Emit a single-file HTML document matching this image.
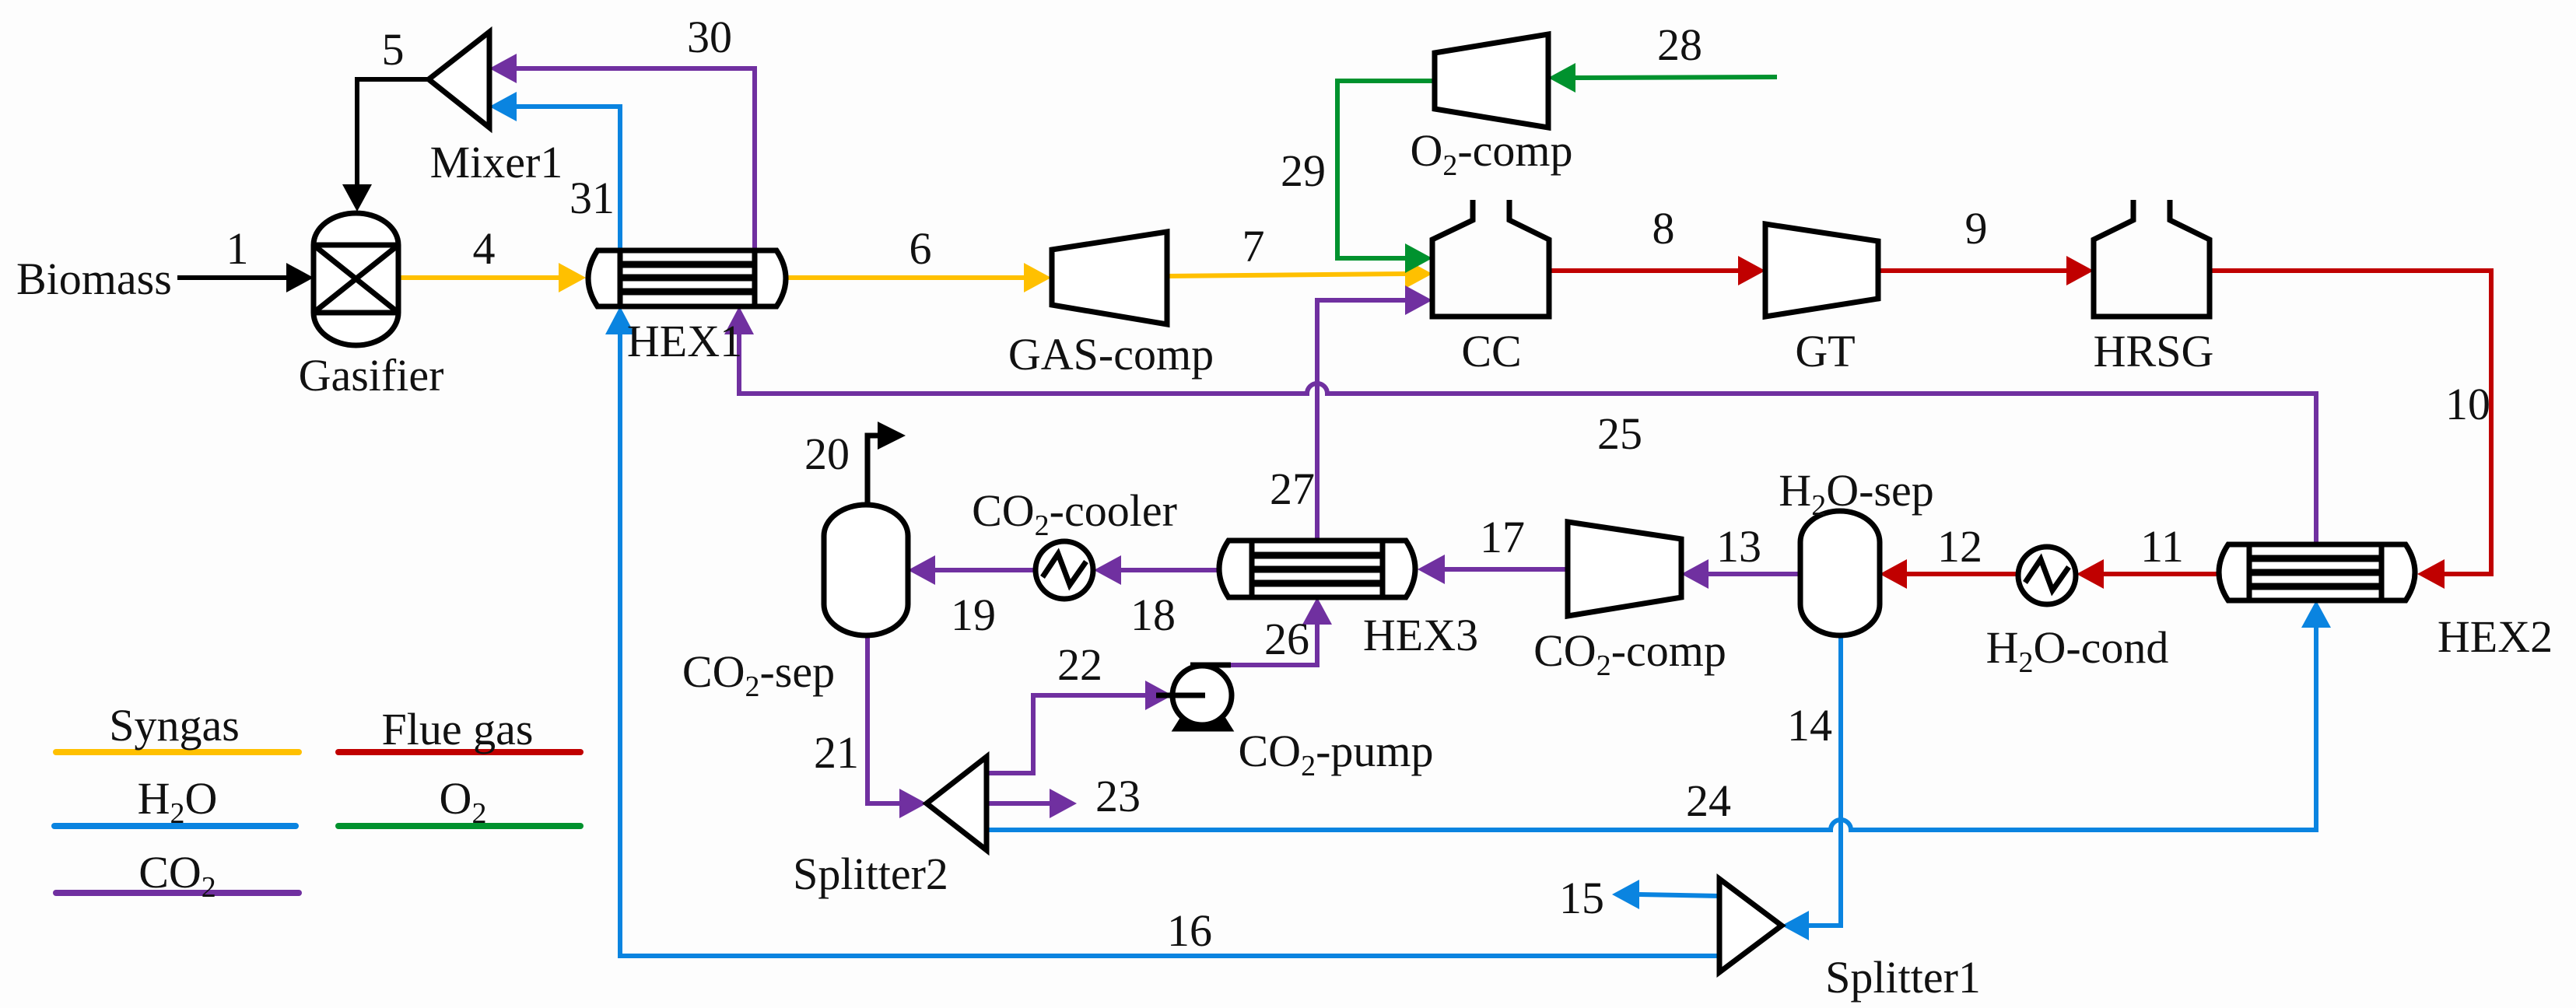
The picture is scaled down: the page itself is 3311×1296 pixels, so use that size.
<!DOCTYPE html>
<html><head><meta charset="utf-8"><style>
html,body{margin:0;padding:0;background:#fdfdfd;}
svg{display:block;}
</style></head><body>
<svg width="3311" height="1296" viewBox="0 0 3311 1296" xmlns="http://www.w3.org/2000/svg">
<rect width="3311" height="1296" fill="#fdfdfd"/>
<g fill="none" stroke-width="6" stroke-linejoin="miter">
<polyline points="551,102 459,102 459,240" stroke="#000"/>
<line x1="228" y1="357" x2="372" y2="357" stroke="#000"/>
<g stroke="#FFC000">
<line x1="512" y1="357" x2="720" y2="357"/>
<line x1="1013" y1="357" x2="1317" y2="357"/>
<line x1="1500" y1="355" x2="1806" y2="352"/>
</g>
<g stroke="#7030A0">
<polyline points="970,325 970,88 660,88"/>
<path d="M950,430 V506 H1680 A13,13 0 0 1 1706,506 H2977 V700"/>
<polyline points="1693,695 1693,386 1806,386"/>
<line x1="1331" y1="733" x2="1202" y2="733"/>
<line x1="1564" y1="733" x2="1441" y2="733"/>
<line x1="2015" y1="732" x2="1857" y2="732"/>
<line x1="2314" y1="738" x2="2196" y2="738"/>
<polyline points="1581,855 1693,855 1693,803"/>
<polyline points="1268,994 1328,994 1328,894 1472,894"/>
<polyline points="1115,817 1115,1033 1156,1033"/>
<line x1="1268" y1="1033" x2="1349" y2="1033"/>
</g>
<g stroke="#C00000">
<line x1="1991" y1="348" x2="2234" y2="348"/>
<line x1="2414" y1="348" x2="2656" y2="348"/>
<polyline points="2840,348 3202,348 3202,738 3142,738"/>
<line x1="2849" y1="738" x2="2704" y2="738"/>
<line x1="2596" y1="738" x2="2451" y2="738"/>
</g>
<g stroke="#00922E">
<line x1="2284" y1="99" x2="2025" y2="100"/>
<polyline points="1844,104 1719,104 1719,332 1806,332"/>
</g>
<g stroke="#0A84E0">
<polyline points="797,325 797,137 664,137"/>
<polyline points="797,430 797,1229 2210,1229"/>
<path d="M1268,1067 H2353 A13,13 0 0 1 2379,1067 H2977 V807"/>
<polyline points="2366,817 2366,1190 2325,1190"/>
<line x1="2210" y1="1152" x2="2107" y2="1150"/>
</g>
<g stroke-width="8" stroke-linecap="round">
<line x1="72" y1="967" x2="384" y2="967" stroke="#FFC000"/>
<line x1="435" y1="967" x2="746" y2="967" stroke="#C00000"/>
<line x1="70" y1="1062" x2="380" y2="1062" stroke="#0A84E0"/>
<line x1="435" y1="1062" x2="746" y2="1062" stroke="#00922E"/>
<line x1="72" y1="1148" x2="384" y2="1148" stroke="#7030A0"/>
</g>
</g>
<g>
<polygon fill="#000" points="459,272 440,237 478,237"/>
<polygon fill="#000" points="403,357 368,338 368,376"/>
<polygon fill="#FFC000" points="753,357 718,338 718,376"/>
<polygon fill="#FFC000" points="1351,357 1316,338 1316,376"/>
<polygon fill="#FFC000" points="1841,352 1806,333 1806,371"/>
<polygon fill="#7030A0" points="629,88 664,69 664,107"/>
<polygon fill="#7030A0" points="950,394 931,430 969,430"/>
<polygon fill="#7030A0" points="1841,386 1806,367 1806,405"/>
<polygon fill="#7030A0" points="1167,733 1202,714 1202,752"/>
<polygon fill="#7030A0" points="1406,733 1441,714 1441,752"/>
<polygon fill="#7030A0" points="1822,732 1857,713 1857,751"/>
<polygon fill="#7030A0" points="2161,738 2196,719 2196,757"/>
<polygon fill="#7030A0" points="1693,768 1674,803 1712,803"/>
<polygon fill="#7030A0" points="1507,894 1472,875 1472,913"/>
<polygon fill="#7030A0" points="1191,1033 1156,1014 1156,1052"/>
<polygon fill="#7030A0" points="1384,1033 1349,1014 1349,1052"/>
<polygon fill="#C00000" points="2269,348 2234,329 2234,367"/>
<polygon fill="#C00000" points="2691,348 2656,329 2656,367"/>
<polygon fill="#C00000" points="3107,738 3142,719 3142,757"/>
<polygon fill="#C00000" points="2669,738 2704,719 2704,757"/>
<polygon fill="#C00000" points="2416,738 2451,719 2451,757"/>
<polygon fill="#00922E" points="1990,100 2025,81 2025,119"/>
<polygon fill="#00922E" points="1841,332 1806,313 1806,351"/>
<polygon fill="#0A84E0" points="629,137 664,118 664,156"/>
<polygon fill="#0A84E0" points="797,394 778,430 816,430"/>
<polygon fill="#0A84E0" points="2977,772 2958,807 2996,807"/>
<polygon fill="#0A84E0" points="2290,1190 2325,1171 2325,1209"/>
<polygon fill="#0A84E0" points="2072,1150 2107,1131 2107,1169"/>
</g>
<g fill="#fff" stroke="#000" stroke-width="7" stroke-linejoin="miter">
<polygon points="551,102 629,41 629,164"/>
<path d="M403,315 A54.5,41 0 0 1 512,315 V402 A54.5,42 0 0 1 403,402 Z"/>
<line x1="403" y1="315" x2="512" y2="315"/><line x1="403" y1="402" x2="512" y2="402"/>
<line x1="403" y1="315" x2="512" y2="402"/><line x1="512" y1="315" x2="403" y2="402"/>
<path d="M768,322 H998 Q1022,358 998,394 H768 Q744,358 768,322 Z"/>
<line x1="797" y1="322" x2="797" y2="394"/><line x1="970" y1="322" x2="970" y2="394"/>
<g stroke-width="9">
<line x1="797" y1="340" x2="970" y2="340"/><line x1="797" y1="357" x2="970" y2="357"/><line x1="797" y1="375" x2="970" y2="375"/>
</g>
<path d="M1579,695 H1807 Q1831,731 1807,768 H1579 Q1555,731 1579,695 Z"/>
<line x1="1609" y1="695" x2="1609" y2="768"/><line x1="1777" y1="695" x2="1777" y2="768"/>
<g stroke-width="9">
<line x1="1609" y1="714" x2="1777" y2="714"/><line x1="1609" y1="732" x2="1777" y2="732"/><line x1="1609" y1="750" x2="1777" y2="750"/>
</g>
<path d="M2864,700 H3092 Q3116,736 3092,772 H2864 Q2840,736 2864,700 Z"/>
<line x1="2891" y1="700" x2="2891" y2="772"/><line x1="3061" y1="700" x2="3061" y2="772"/>
<g stroke-width="9">
<line x1="2891" y1="718" x2="3061" y2="718"/><line x1="2891" y1="736" x2="3061" y2="736"/><line x1="2891" y1="754" x2="3061" y2="754"/>
</g>
<polygon points="1352,321 1500,298 1500,417 1352,392"/>
<polygon points="1844,68 1990,44 1990,164 1844,140"/>
<polygon points="2269,288 2414,310 2414,384 2269,407"/>
<polygon points="2015,671 2161,693 2161,768 2015,792"/>
<path d="M1893,257 V283 L1841,308 V407 H1991 V308 L1940,283 V257" fill="none"/>
<path d="M2742,257 V283 L2691,308 V407 H2840 V308 L2789,283 V257" fill="none"/>
<rect x="1059" y="649" width="108" height="168" rx="54" ry="40"/>
<rect x="2314" y="657" width="102" height="160" rx="51" ry="40"/>
<circle cx="1368" cy="733" r="37"/>
<polyline points="1340,742 1360,712 1375,752 1396,722" fill="none"/>
<circle cx="2631" cy="740" r="37"/>
<polyline points="2603,749 2623,719 2638,759 2659,729" fill="none"/>
<polygon points="1512,937 1580,937 1568,918 1524,918" fill="#000"/>
<circle cx="1545" cy="894" r="38"/>
<line x1="1486" y1="894" x2="1549" y2="894"/>
<line x1="1530" y1="855" x2="1582" y2="855"/>
<polygon points="1191,1033 1268,973 1268,1093"/>
<polygon points="2290,1190 2210,1130 2210,1250"/>
<polyline points="1115,649 1115,560 1132,560" fill="none"/>
</g>
<polygon fill="#000" points="1128,542 1164,560 1128,578"/>
<g font-family="Liberation Serif, DejaVu Serif Condensed, DejaVu Serif, serif" font-size="58" fill="#111" text-anchor="middle">
<text x="21" y="378" text-anchor="start">Biomass</text>
<text x="305" y="339">1</text>
<text x="622" y="339">4</text>
<text x="505" y="83">5</text>
<text x="912" y="67">30</text>
<text x="761" y="274">31</text>
<text x="638" y="228">Mixer1</text>
<text x="477" y="502">Gasifier</text>
<text x="880" y="458">HEX1</text>
<text x="1183" y="339">6</text>
<text x="1611" y="336">7</text>
<text x="1428" y="475">GAS-comp</text>
<text x="1917" y="471">CC</text>
<text x="1917" y="213">O<tspan font-size="38" dy="12">2</tspan><tspan dy="-12">-comp</tspan></text>
<text x="2159" y="77">28</text>
<text x="1675" y="239">29</text>
<text x="2138" y="313">8</text>
<text x="2082" y="577">25</text>
<text x="1661" y="648">27</text>
<text x="2540" y="313">9</text>
<text x="2346" y="471">GT</text>
<text x="2768" y="471">HRSG</text>
<text x="3172" y="539">10</text>
<text x="2386" y="650">H<tspan font-size="38" dy="12">2</tspan><tspan dy="-12">O-sep</tspan></text>
<text x="1063" y="603">20</text>
<text x="1381" y="676">CO<tspan font-size="38" dy="12">2</tspan><tspan dy="-12">-cooler</tspan></text>
<text x="1251" y="810">19</text>
<text x="1482" y="810">18</text>
<text x="1931" y="710">17</text>
<text x="1826" y="836">HEX3</text>
<text x="2095" y="856">CO<tspan font-size="38" dy="12">2</tspan><tspan dy="-12">-comp</tspan></text>
<text x="1654" y="841">26</text>
<text x="1388" y="874">22</text>
<text x="1717" y="985">CO<tspan font-size="38" dy="12">2</tspan><tspan dy="-12">-pump</tspan></text>
<text x="975" y="883">CO<tspan font-size="38" dy="12">2</tspan><tspan dy="-12">-sep</tspan></text>
<text x="1075" y="987">21</text>
<text x="1437" y="1043">23</text>
<text x="1119" y="1143">Splitter2</text>
<text x="2196" y="1049">24</text>
<text x="1529" y="1216">16</text>
<text x="2033" y="1174">15</text>
<text x="2235" y="722">13</text>
<text x="2519" y="722">12</text>
<text x="2779" y="722">11</text>
<text x="2670" y="852">H<tspan font-size="38" dy="12">2</tspan><tspan dy="-12">O-cond</tspan></text>
<text x="3207" y="838">HEX2</text>
<text x="2326" y="952">14</text>
<text x="2446" y="1276">Splitter1</text>
<text x="224" y="952">Syngas</text>
<text x="588" y="957">Flue gas</text>
<text x="228" y="1046">H<tspan font-size="38" dy="12">2</tspan><tspan dy="-12">O</tspan></text>
<text x="595" y="1046">O<tspan font-size="38" dy="12">2</tspan></text>
<text x="228" y="1141">CO<tspan font-size="38" dy="12">2</tspan></text>
</g>
</svg>
</body></html>
